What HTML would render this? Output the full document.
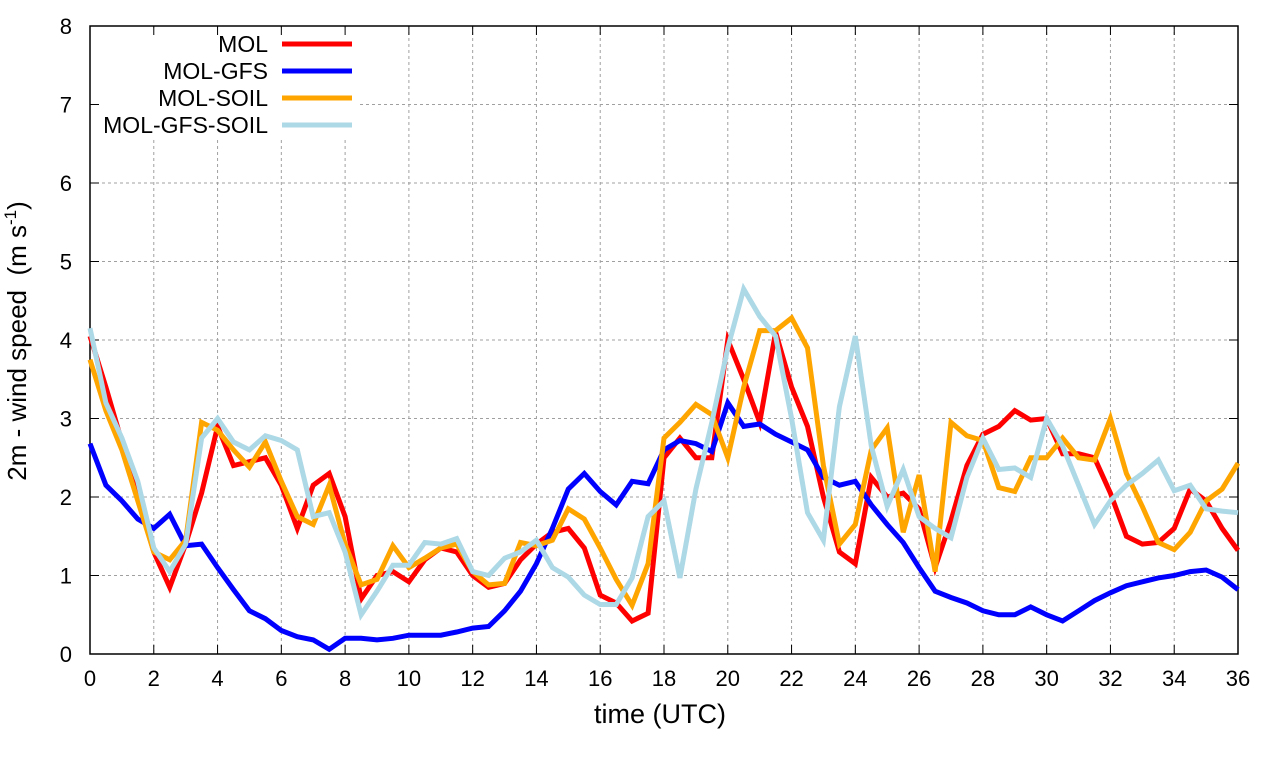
<!DOCTYPE html>
<html><head><meta charset="utf-8"><style>
body{margin:0;background:#fff;}
svg{display:block;font-family:"Liberation Sans",sans-serif;}
</style></head><body>
<svg id="chart" width="1280" height="760">
<g id="grid"></g>
<g id="axes"></g>
<g id="series"></g>
<g id="legend"></g>
<text x="660" y="723" font-size="27" text-anchor="middle">time (UTC)</text>
<text transform="translate(26,341) rotate(-90)" font-size="26" text-anchor="middle" xml:space="preserve" style="white-space:pre">2m - wind speed  (m s<tspan dy="-10" font-size="17">-1</tspan><tspan dy="10">)</tspan></text>
</svg>
<script>
const xTicks=[0,2,4,6,8,10,12,14,16,18,20,22,24,26,28,30,32,34,36];
const yTicks=[0,1,2,3,4,5,6,7,8];
const seriesNames=["MOL","MOL-GFS","MOL-SOIL","MOL-GFS-SOIL"];
const seriesColors=["#ff0000","#0000ff","#ffa500","#add8e6"];
const mol=[4.05,3.4,2.7,2.0,1.3,0.85,1.4,2.05,2.9,2.4,2.45,2.5,2.15,1.6,2.15,2.3,1.75,0.7,1.0,1.05,0.92,1.2,1.35,1.3,1.0,0.85,0.9,1.2,1.4,1.55,1.6,1.35,0.75,0.65,0.42,0.52,2.5,2.75,2.5,2.5,4.0,3.5,2.95,4.1,3.4,2.9,2.0,1.3,1.15,2.25,2.0,2.05,1.85,1.1,1.7,2.4,2.8,2.9,3.1,2.98,3.0,2.55,2.55,2.5,2.05,1.5,1.4,1.42,1.6,2.1,1.95,1.6,1.32];
const molGfs=[2.68,2.15,1.95,1.72,1.6,1.78,1.38,1.4,1.1,0.82,0.55,0.45,0.3,0.22,0.18,0.06,0.2,0.2,0.18,0.2,0.24,0.24,0.24,0.28,0.33,0.35,0.55,0.8,1.15,1.6,2.1,2.3,2.07,1.9,2.2,2.17,2.6,2.72,2.68,2.58,3.2,2.9,2.93,2.8,2.7,2.6,2.25,2.15,2.2,1.9,1.65,1.42,1.1,0.8,0.72,0.65,0.55,0.5,0.5,0.6,0.5,0.42,0.55,0.68,0.78,0.87,0.92,0.97,1.0,1.05,1.07,0.98,0.82];
const molSoil=[3.75,3.1,2.6,1.95,1.3,1.2,1.45,2.95,2.85,2.6,2.38,2.7,2.2,1.75,1.65,2.15,1.4,0.88,0.95,1.38,1.1,1.22,1.35,1.4,1.05,0.88,0.9,1.42,1.38,1.45,1.85,1.72,1.35,0.95,0.62,1.15,2.75,2.95,3.18,3.05,2.5,3.4,4.12,4.12,4.28,3.9,2.4,1.4,1.65,2.6,2.88,1.55,2.28,1.05,2.95,2.78,2.72,2.12,2.07,2.5,2.5,2.75,2.5,2.47,3.0,2.3,1.88,1.42,1.33,1.55,1.95,2.1,2.43];
const molGfsSoil=[4.15,3.2,2.75,2.2,1.35,1.05,1.4,2.75,3.0,2.7,2.6,2.78,2.72,2.6,1.75,1.8,1.3,0.5,0.8,1.13,1.13,1.42,1.4,1.47,1.05,1.0,1.22,1.3,1.45,1.1,0.98,0.75,0.63,0.63,0.97,1.75,1.95,0.97,2.1,2.95,3.9,4.65,4.3,4.05,3.0,1.8,1.45,3.15,4.05,2.65,1.88,2.35,1.75,1.6,1.48,2.25,2.75,2.35,2.37,2.25,3.0,2.65,2.15,1.65,1.95,2.15,2.3,2.47,2.08,2.15,1.85,1.82,1.8];
const allSeries=[mol,molGfs,molSoil,molGfsSoil];
const L=90,R=1238,T=26,B=654,NS="http://www.w3.org/2000/svg";
const xs=t=>L+(t/36)*(R-L), ys=v=>B-(v/8)*(B-T);
function mk(tag,attrs,parent){const e=document.createElementNS(NS,tag);for(const k in attrs)e.setAttribute(k,attrs[k]);parent.appendChild(e);return e;}
const grid=document.getElementById('grid'),axes=document.getElementById('axes'),ser=document.getElementById('series'),leg=document.getElementById('legend');
xTicks.forEach(t=>{const x=xs(t);
 if(t>0&&t<36){const g=mk('line',{x1:x,x2:x,y1:T,y2:B,stroke:'#a0a0a0','stroke-dasharray':'3,3','stroke-width':1},grid);
 
 }
 mk('line',{x1:x,x2:x,y1:B,y2:B-9,stroke:'#000'},axes);mk('line',{x1:x,x2:x,y1:T,y2:T+9,stroke:'#000'},axes);
 const lb=mk('text',{x:x,y:686,'font-size':22,'text-anchor':'middle'},axes);lb.textContent=t;
 
 });
yTicks.forEach(v=>{const y=ys(v);
 if(v>0&&v<8){const g=mk('line',{x1:L,x2:R,y1:y,y2:y,stroke:'#a0a0a0','stroke-dasharray':'3,3','stroke-width':1},grid);
 
 }
 mk('line',{x1:L,x2:L+9,y1:y,y2:y,stroke:'#000'},axes);mk('line',{x1:R,x2:R-9,y1:y,y2:y,stroke:'#000'},axes);
 const lb=mk('text',{x:72,y:y+8,'font-size':22,'text-anchor':'end'},axes);lb.textContent=v;
 
 });
mk('rect',{x:92,y:28,width:268,height:112,fill:'#fff'},grid);
const frame=mk('rect',{x:L,y:T,width:R-L,height:B-T,fill:'none',stroke:'#000','stroke-width':1.5},axes);


allSeries.forEach((d,i)=>{const pts=d.map((v,k)=>xs(k*0.5).toFixed(1)+','+ys(v).toFixed(1)).join(' ');
 const p=mk('polyline',{points:pts,fill:'none',stroke:seriesColors[i],'stroke-width':5,'stroke-linejoin':'miter'},ser);
 
 
 const y=44+i*27;
 const t=mk('text',{x:268,y:y+8,'font-size':23,'text-anchor':'end'},leg);t.textContent=seriesNames[i];
 
 
 const s=mk('line',{x1:282,x2:352,y1:y,y2:y,stroke:seriesColors[i],'stroke-width':5},leg);
 
 });
</script>
</body></html>
